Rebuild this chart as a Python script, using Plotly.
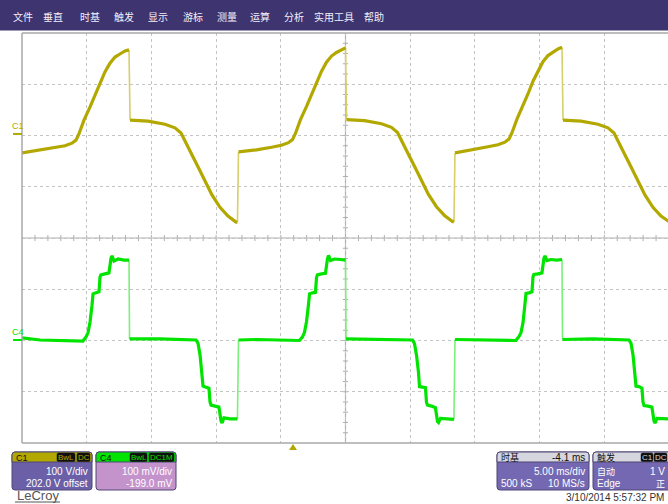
import plotly.graph_objects as go

W, H = 668, 504

# Graticule placement on the screen (pixels)
GX0, GX1, GY0, GY1 = 22, 669, 33, 443
MS_PER_DIV = 5.0
N_HDIV, N_VDIV = 10, 8

# ---- Channel C1 (top trace), time in ms from left edge, level in screen divisions
c1_t = [0.00, 1.39, 2.55, 3.32, 3.86, 4.17, 4.40, 4.79, 5.26, 5.64, 6.03, 6.41, 6.80, 7.19, 7.57, 7.96, 8.27,
        8.35, 9.74, 11.05, 11.82, 12.29, 12.67, 13.14, 13.60, 14.14, 14.68, 15.30, 15.92, 16.54, 16.65,
        16.73, 18.12, 19.28, 20.05, 20.59, 20.90, 21.13, 21.52, 21.99, 22.37, 22.76, 23.14, 23.53, 23.92, 24.30, 24.69, 25.00,
        25.08, 26.47, 27.78, 28.55, 29.02, 29.40, 29.87, 30.33, 30.87, 31.41, 32.03, 32.65, 33.27, 33.38,
        33.46, 34.85, 36.01, 36.78, 37.32, 37.63, 37.86, 38.25, 38.72, 39.10, 39.49, 39.87, 40.26, 40.65, 41.03, 41.42, 41.73,
        41.81, 43.20, 44.51, 45.28, 45.75, 46.13, 46.60, 47.06, 47.60, 48.14, 48.76, 49.38, 50.00]
c1_div = [1.66, 1.72, 1.76, 1.80, 1.85, 1.91, 2.03, 2.30, 2.56, 2.79, 3.04, 3.24, 3.41, 3.53, 3.59, 3.65, 3.67,
          2.30, 2.28, 2.22, 2.15, 2.05, 1.87, 1.62, 1.39, 1.11, 0.84, 0.60, 0.43, 0.31, 0.31,
          1.68, 1.72, 1.77, 1.81, 1.86, 1.92, 2.04, 2.31, 2.57, 2.80, 3.05, 3.25, 3.43, 3.55, 3.62, 3.68, 3.71,
          2.31, 2.29, 2.23, 2.16, 2.06, 1.88, 1.63, 1.40, 1.12, 0.85, 0.61, 0.44, 0.32, 0.31,
          1.66, 1.72, 1.78, 1.82, 1.87, 1.93, 2.05, 2.32, 2.58, 2.81, 3.06, 3.26, 3.44, 3.56, 3.63, 3.69, 3.72,
          2.30, 2.28, 2.22, 2.15, 2.05, 1.87, 1.62, 1.39, 1.11, 0.84, 0.60, 0.43, 0.32]

# ---- Channel C4 (bottom trace)
c4_t = [0.00, 1.39, 4.71, 4.95, 5.10, 5.26, 5.41, 5.49, 5.72, 5.95, 6.03, 6.10, 6.41, 6.72, 6.88, 6.96, 7.11, 7.42, 7.88, 8.27,
        8.31, 10.66, 13.45, 13.60, 13.76, 13.91, 13.99, 14.22, 14.45, 14.53, 14.61, 14.92, 15.22, 15.38, 15.46, 15.61, 16.07, 16.65,
        16.73, 18.12, 21.44, 21.68, 21.83, 21.99, 22.14, 22.22, 22.45, 22.68, 22.76, 22.83, 23.14, 23.45, 23.61, 23.69, 23.84, 24.15, 24.61, 25.00,
        25.04, 27.39, 30.18, 30.33, 30.49, 30.64, 30.72, 30.95, 31.18, 31.26, 31.34, 31.65, 31.95, 32.11, 32.19, 32.34, 32.80, 33.38,
        33.46, 34.85, 38.17, 38.41, 38.56, 38.72, 38.87, 38.95, 39.18, 39.41, 39.49, 39.56, 39.87, 40.18, 40.34, 40.42, 40.57, 40.88, 41.34, 41.73,
        41.77, 44.12, 46.91, 47.06, 47.22, 47.37, 47.45, 47.68, 47.91, 47.99, 48.07, 48.38, 48.68, 48.84, 48.92, 49.07, 49.53, 50.11]
c4_div = [-1.95, -1.99, -2.01, -1.93, -1.85, -1.64, -1.31, -1.09, -1.07, -1.05, -0.76, -0.72, -0.70, -0.68, -0.39, -0.35, -0.45, -0.41, -0.43, -0.43,
          -1.97, -1.97, -1.99, -2.05, -2.28, -2.61, -2.89, -2.91, -2.93, -3.20, -3.26, -3.28, -3.30, -3.57, -3.61, -3.51, -3.53, -3.53,
          -1.99, -1.98, -2.00, -1.93, -1.84, -1.63, -1.30, -1.09, -1.07, -1.06, -0.77, -0.72, -0.70, -0.69, -0.40, -0.34, -0.44, -0.41, -0.42, -0.43,
          -1.97, -1.98, -1.99, -2.06, -2.29, -2.62, -2.90, -2.91, -2.92, -3.21, -3.26, -3.28, -3.31, -3.58, -3.60, -3.52, -3.53, -3.54,
          -1.98, -1.99, -2.00, -1.92, -1.85, -1.65, -1.31, -1.08, -1.07, -1.05, -0.76, -0.71, -0.70, -0.68, -0.39, -0.35, -0.44, -0.42, -0.43, -0.42,
          -1.98, -1.97, -1.99, -2.05, -2.28, -2.61, -2.89, -2.90, -2.93, -3.20, -3.27, -3.28, -3.30, -3.57, -3.61, -3.52, -3.53, -3.53]

C1_COLOR, C1_EDGE = "#B2A800", "#D6CF6A"
C4_COLOR, C4_EDGE = "#00E400", "#7CF07C"

menu_items = ["文件", "垂直", "时基", "触发", "显示", "游标", "测量", "运算", "分析", "实用工具", "帮助"]
menu_x = [23, 52.5, 90, 124, 158, 192.5, 226.5, 260, 294, 333.5, 374]

CJK = "Noto Sans CJK SC"
SANS = "Liberation Sans"


def px(x):
    return x / W


def py(y):
    return 1 - y / H


def split_edges(t, v, jump=1.0):
    """Separate fast vertical transitions (drawn thin) from the sampled body."""
    bt, bv, et, ev = [], [], [], []
    for i in range(len(t)):
        bt.append(t[i]); bv.append(v[i])
        if i + 1 < len(t) and abs(v[i + 1] - v[i]) > jump:
            bt.append(None); bv.append(None)
            et += [t[i], t[i + 1], None]; ev += [v[i], v[i + 1], None]
    return bt, bv, et, ev


fig = go.Figure()
for t, v, col, ecol in [(c1_t, c1_div, C1_COLOR, C1_EDGE), (c4_t, c4_div, C4_COLOR, C4_EDGE)]:
    bt, bv, et, ev = split_edges(t, v)
    fig.add_trace(go.Scatter(x=et, y=ev, mode="lines", line=dict(color=ecol, width=1.6),
                             hoverinfo="skip", showlegend=False))
    fig.add_trace(go.Scatter(x=bt, y=bv, mode="lines", line=dict(color=col, width=3.2),
                             hoverinfo="skip", showlegend=False))

x_span = (W - GX0) / (GX1 - GX0) * N_HDIV * MS_PER_DIV
fig.update_xaxes(domain=[px(GX0), 1], range=[0, x_span], showticklabels=False, ticks="",
                 showgrid=True, dtick=MS_PER_DIV, tick0=0, gridcolor="#C4C4C4", griddash="dot",
                 gridwidth=1, zeroline=False, showline=False, fixedrange=True)
fig.update_yaxes(domain=[py(GY1), py(GY0)], range=[-N_VDIV / 2, N_VDIV / 2], showticklabels=False, ticks="",
                 showgrid=True, dtick=1, tick0=0, gridcolor="#C4C4C4", griddash="dot",
                 gridwidth=1, zeroline=False, showline=False, fixedrange=True)

shapes = []
ann = []

# menu bar
shapes.append(dict(type="rect", xref="paper", yref="paper", x0=0, x1=1, y0=py(30.5), y1=1,
                   fillcolor="#3E3470", line_width=0, layer="below"))
for label, cx in zip(menu_items, menu_x):
    ann.append(dict(x=px(cx), y=py(16), xref="paper", yref="paper", text=label, showarrow=False,
                    font=dict(family=CJK, size=10, color="#F2F0FA"), xanchor="center", yanchor="middle"))

# graticule frame (left, top, bottom)
frame = dict(color="#A8A8A8", width=1.5)
shapes.append(dict(type="line", xref="paper", yref="paper", x0=px(GX0), x1=px(GX0), y0=py(GY0), y1=py(GY1), line=frame))
shapes.append(dict(type="line", xref="paper", yref="paper", x0=px(GX0), x1=1, y0=py(GY0), y1=py(GY0), line=frame))
shapes.append(dict(type="line", xref="paper", yref="paper", x0=px(GX0), x1=1, y0=py(GY1), y1=py(GY1), line=frame))

# centre cross with minor ticks
xc = N_HDIV * MS_PER_DIV / 2
axis_line = dict(color="#B0B0B0", width=1.2)
shapes.append(dict(type="line", xref="x", yref="y", x0=0, x1=x_span, y0=0, y1=0, line=axis_line, layer="below"))
shapes.append(dict(type="line", xref="x", yref="y", x0=xc, x1=xc, y0=-4, y1=4, line=axis_line, layer="below"))
for k in range(1, N_HDIV * 5):
    tx = k * MS_PER_DIV / 5
    shapes.append(dict(type="line", xref="x", yref="y", x0=tx, x1=tx, y0=-0.06, y1=0.06,
                       line=dict(color="#B0B0B0", width=1), layer="below"))
for k in range(-N_VDIV * 5 // 2 + 1, N_VDIV * 5 // 2):
    ty = k / 5
    shapes.append(dict(type="line", xref="x", yref="y", x0=xc - 0.2, x1=xc + 0.2, y0=ty, y1=ty,
                       line=dict(color="#B0B0B0", width=1), layer="below"))

# channel offset markers
for name, lvl, col in [("C1", 2.03, C1_COLOR), ("C4", -1.99, C4_COLOR)]:
    shapes.append(dict(type="line", xref="paper", yref="y", x0=px(13), x1=px(22), y0=lvl, y1=lvl,
                       line=dict(color=col, width=2)))
    ann.append(dict(x=px(10), y=lvl, xref="paper", yref="y", yshift=8, text=name, showarrow=False,
                    font=dict(family=SANS, size=9, color=col), xanchor="left", yanchor="middle"))

# trigger position marker
tx_px = 293
shapes.append(dict(type="path", xref="paper", yref="paper",
                   path=f"M {px(tx_px - 4)} {py(450)} L {px(tx_px + 4)} {py(450)} L {px(tx_px)} {py(444)} Z",
                   fillcolor=C1_COLOR, line_width=0))


def rounded(x0, x1, y0, y1, r_top, r_bot):
    """SVG path (paper coords) for a rectangle given in pixels with rounded corners."""
    a, b = px(x0), px(x1)
    top, bot = py(y0), py(y1)
    rxt, ryt = px(r_top), r_top / H
    rxb, ryb = px(r_bot), r_bot / H
    return (f"M {a + rxt} {top} L {b - rxt} {top} Q {b} {top} {b} {top - ryt} "
            f"L {b} {bot + ryb} Q {b} {bot} {b - rxb} {bot} L {a + rxb} {bot} Q {a} {bot} {a} {bot + ryb} "
            f"L {a} {top - ryt} Q {a} {top} {a + rxt} {top} Z")


def box(x0, x1, y0, ymid, y1, head_col, body_col):
    shapes.append(dict(type="path", xref="paper", yref="paper", path=rounded(x0, x1, y0, y1, 3, 3),
                       fillcolor=body_col, line=dict(color="#4E4676", width=1)))
    shapes.append(dict(type="path", xref="paper", yref="paper", path=rounded(x0, x1, y0, ymid, 3, 0),
                       fillcolor=head_col, line=dict(color="#4E4676", width=1)))


def text(x, y, s, anchor="left", color="white", size=10, family=SANS):
    ann.append(dict(x=px(x), y=py(y), xref="paper", yref="paper", text=s, showarrow=False,
                    font=dict(family=family, size=size, color=color), xanchor=anchor, yanchor="middle"))


def tag(x0, x1, y0, y1, s, fg):
    shapes.append(dict(type="path", xref="paper", yref="paper", path=rounded(x0, x1, y0, y1, 1.5, 1.5),
                       fillcolor="#101010", line=dict(color="#101010", width=0.5)))
    text((x0 + x1) / 2, (y0 + y1) / 2, s, anchor="center", color=fg, size=8)


# C1 descriptor
box(12, 92, 452, 462, 490, C1_COLOR, "#6B60A8")
text(14, 457.5, "C1", color="#111111", size=9)
tag(57, 75, 453, 461.5, "BwL", C1_COLOR)
tag(77, 90, 453, 461.5, "DC", C1_COLOR)
text(90, 471, "100 V/div", anchor="right")
text(90, 483, "202.0 V offset", anchor="right")

# C4 descriptor
box(96, 176, 452, 462, 490, C4_COLOR, "#C493CC")
text(98, 457.5, "C4", color="#111111", size=9)
tag(130, 147, 453, 461.5, "BwL", C4_COLOR)
tag(149, 174, 453, 461.5, "DC1M", C4_COLOR)
text(174, 471, "100 mV/div", anchor="right")
text(174, 483, "-199.0 mV", anchor="right")

# timebase descriptor
box(497, 589, 452, 462, 490, "#D6D6DE", "#7468B2")
text(499, 457, "时基", color="#111111", size=9, family=CJK)
text(587, 457.5, "-4.1 ms", anchor="right", color="#111111")
text(587, 471, "5.00 ms/div", anchor="right")
text(499, 483, "500 kS")
text(587, 483, "10 MS/s", anchor="right")

# trigger descriptor
box(593, 672, 452, 462, 490, "#D6D6DE", "#7468B2")
text(595, 457, "触发", color="#111111", size=9, family=CJK)
tag(641, 653, 453, 461.5, "C1", "#D6D6DE")
tag(654, 667, 453, 461.5, "DC", "#D6D6DE")
text(595, 471, "自动", family=CJK, size=9)
text(667, 471, "1 V", anchor="right")
text(595, 483, "Edge")
text(667, 483, "正", anchor="right", family=CJK, size=9)

# brand and timestamp
text(15, 495, "LeCroy", color="#555555", size=13)
shapes.append(dict(type="line", xref="paper", yref="paper", x0=px(15), x1=px(60), y0=py(502), y1=py(502),
                   line=dict(color="#555555", width=1)))
text(666, 497, "3/10/2014 5:57:32 PM", anchor="right", color="#333333", size=10)

fig.update_layout(width=W, height=H, margin=dict(l=0, r=0, t=0, b=0), paper_bgcolor="white",
                  plot_bgcolor="white", shapes=shapes, annotations=ann, showlegend=False)
fig.write_html("out.html")
